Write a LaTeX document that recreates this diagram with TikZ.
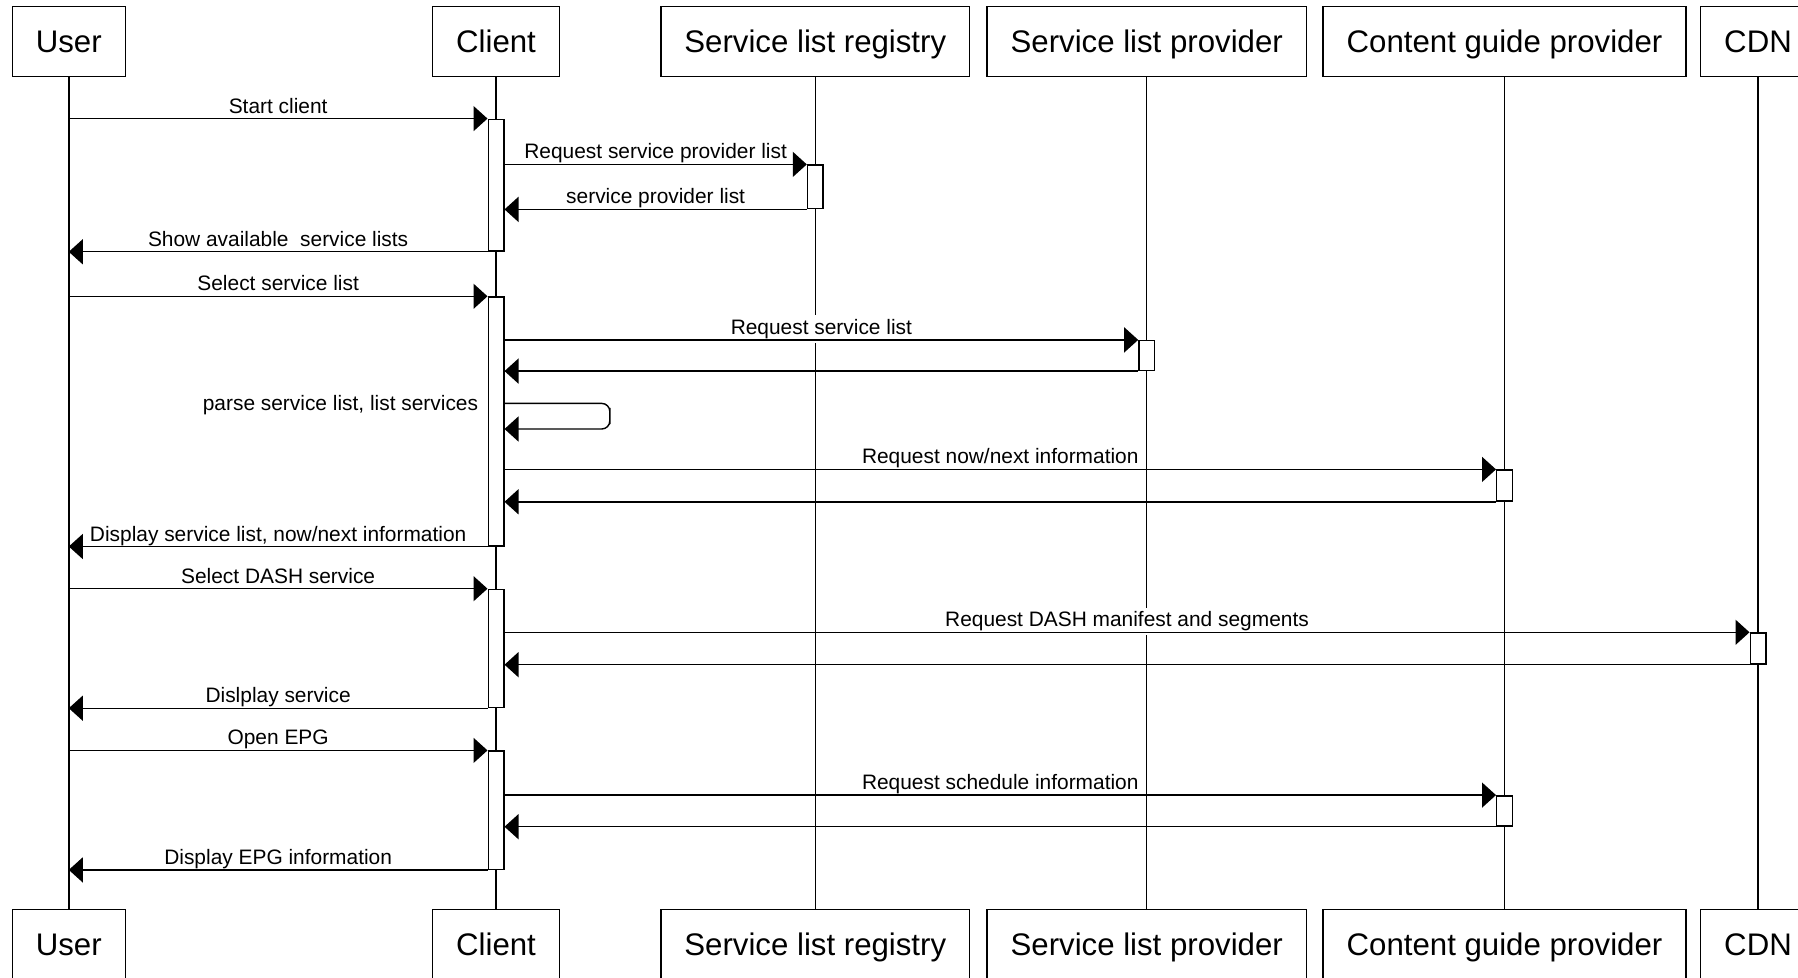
\documentclass[tikz,border=0pt]{standalone}
\usepackage{fontspec}
\setmainfont{Liberation Sans}
\usepackage{tikz}
\usetikzlibrary{arrows.meta,fit}

\tikzset{
  part/.style={draw, line width=0.7pt, inner xsep=11.75pt, inner ysep=0pt, minimum height=35pt, text height=11.2pt, text depth=0pt, font=\fontsize{15.6}{18}\selectfont},
  life/.style={line width=0.7pt},
  act/.style={draw, fill=white, line width=0.7pt, inner sep=0pt},
  msg/.style={line width=0.7pt, -{Triangle[length=7pt,width=12.5pt]}},
  lbl/.style={midway, anchor=base, yshift=2.75pt, fill=white, inner xsep=1pt, inner ysep=2pt, behind path, font=\fontsize{10.45}{12}\selectfont}
}

\begin{document}
\begin{tikzpicture}[x=0.5pt, y=-0.5pt]
      \useasboundingbox (0,0) rectangle (1798,978);
      % participants, top and bottom
      \node[part] (user)      at (68.8,41.75)   {User};
      \node[part] (client)    at (496,41.75)    {Client};
      \node[part] (registry)  at (815.3,41.75)  {Service list registry};
      \node[part] (provider)  at (1146.7,41.75) {Service list provider};
      \node[part] (guide)     at (1504.5,41.75) {Content guide provider};
      \node[part] (cdn)       at (1758,41.75)   {CDN};
      \node[part] (user2)     at (68.8,944.25)   {User};
      \node[part] (client2)   at (496,944.25)    {Client};
      \node[part] (registry2) at (815.3,944.25)  {Service list registry};
      \node[part] (provider2) at (1146.7,944.25) {Service list provider};
      \node[part] (guide2)    at (1504.5,944.25) {Content guide provider};
      \node[part] (cdn2)      at (1758,944.25)   {CDN};
      % lifelines
      \draw[life] (user) -- (user2);
      \draw[life] (client) -- (client2);
      \draw[life] (registry) -- (registry2);
      \draw[life] (provider) -- (provider2);
      \draw[life] (guide) -- (guide2);
      \draw[life] (cdn) -- (cdn2);
      % activations
      \node[act, fit={(488.2,119.3) (503.8,251.1)}] (act1) {};
      \node[act, fit={(807.5,165.1) (823.1,208.7)}] (reg1) {};
      \node[act, fit={(488.2,297) (503.8,545.8)}]   (act2) {};
      \node[act, fit={(1138.9,340.6) (1154.5,370.4)}] (prov1) {};
      \node[act, fit={(1496.7,470.1) (1512.3,501.1)}] (guide1) {};
      \node[act, fit={(488.2,589.4) (503.8,707.5)}] (act3) {};
      \node[act, fit={(1750.2,633) (1765.8,664)}]   (cdn1) {};
      \node[act, fit={(488.2,751.1) (503.8,869.2)}] (act4) {};
      \node[act, fit={(1496.7,795.8) (1512.3,826)}] (guide3) {};
      % messages
      \draw[msg] (user |- act1.north west) -- (act1.north west) node[lbl]{Start client};
      \draw[msg] (act1.east |- reg1.north) -- (reg1.north west) node[lbl]{Request service provider list};
      \draw[msg] (reg1.south west) -- (act1.east |- reg1.south) node[lbl]{service provider list};
      \draw[msg] (act1.south west) -- (user |- act1.south west) node[lbl]{Show available~~service lists};
      \draw[msg] (user |- act2.north west) -- (act2.north west) node[lbl]{Select service list};
      \draw[msg] (act2.east |- prov1.north) -- (prov1.north west) node[lbl]{Request service list};
      \draw[msg] (prov1.south west) -- (act2.east |- prov1.south);
      \draw[msg, rounded corners=4pt] (act2.east |- 0,403.4) -| (609.8,416) |- (act2.east |- 0,429);
      \node[anchor=base east, inner sep=0pt, font=\fontsize{10.45}{12}\selectfont] (parse) at (478.5,410.3) {parse service list, list services};
      \draw[msg] (act2.east |- guide1.north) -- (guide1.north west) node[lbl]{Request now/next information};
      \draw[msg] (guide1.south west) -- (act2.east |- guide1.south);
      \draw[msg] (act2.south west) -- (user |- act2.south west) node[lbl]{Display service list, now/next information};
      \draw[msg] (user |- act3.north west) -- (act3.north west) node[lbl]{Select DASH service};
      \draw[msg] (act3.east |- cdn1.north) -- (cdn1.north west) node[lbl]{Request DASH manifest and segments};
      \draw[msg] (cdn1.south west) -- (act3.east |- cdn1.south);
      \draw[msg] (act3.south west) -- (user |- act3.south west) node[lbl]{Dislplay service};
      \draw[msg] (user |- act4.north west) -- (act4.north west) node[lbl]{Open EPG};
      \draw[msg] (act4.east |- guide3.north) -- (guide3.north west) node[lbl]{Request schedule information};
      \draw[msg] (guide3.south west) -- (act4.east |- guide3.south);
      \draw[msg] (act4.south west) -- (user |- act4.south west) node[lbl]{Display EPG information};
    \end{tikzpicture}
\end{document}
